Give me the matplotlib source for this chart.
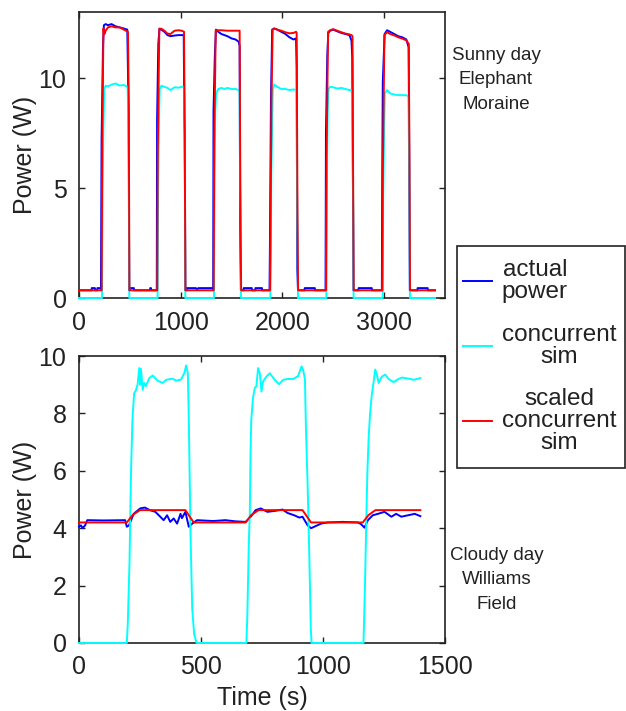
import matplotlib
matplotlib.use("Agg")
import matplotlib.pyplot as plt
from matplotlib.patches import Rectangle

plt.rcParams['font.family'] = ['Liberation Sans', 'DejaVu Sans']

# ---------------- Top panel: Sunny day, Elephant Moraine ----------------
top_red_t = [0, 223, 228, 240, 250, 262, 285, 320, 360, 400, 440, 482, 490, 496,
             770, 775, 790, 810, 840, 870, 900, 940, 980, 1010, 1033, 1040, 1047,
             1325, 1330, 1345, 1400, 1460, 1580, 1588, 1595,
             1879, 1883, 1893, 1905, 1920, 1950, 1990, 2030, 2070, 2110, 2135, 2141, 2149, 2155,
             2430, 2435, 2450, 2470, 2500, 2540, 2580, 2620, 2660, 2680, 2690, 2696, 2702,
             2984, 2989, 3004, 3030, 3060, 3100, 3140, 3180, 3220, 3235, 3244, 3250, 3256,
             3502]
top_red_p = [0.35, 0.35, 6.4, 12.25, 12.0, 12.15, 12.3, 12.35, 12.3, 12.3, 12.2, 12.1, 8.4, 0.35,
             0.35, 6.7, 12.24, 12.24, 12.15, 12.02, 12.0, 12.15, 12.17, 12.15, 12.1, 7.4, 0.35,
             0.35, 7.0, 12.17, 12.17, 12.15, 12.15, 3.85, 0.35,
             0.35, 2.4, 9.0, 12.2, 12.25, 12.2, 12.15, 12.08, 12.03, 12.05, 12.1, 12.05, 3.8, 0.35,
             0.35, 6.4, 12.1, 12.17, 12.22, 12.15, 12.08, 12.02, 11.98, 11.95, 11.9, 5.7, 0.35,
             0.35, 5.8, 11.95, 12.09, 12.0, 11.94, 11.85, 11.79, 11.71, 11.6, 11.55, 6.7, 0.35,
             0.35]

top_blue_t = [0, 125, 125, 157, 157, 180, 180, 213, 216,
              222, 236, 245, 262, 285, 320, 360, 400, 440, 475, 482, 488, 494,
              494, 500, 500, 540, 540, 700, 700, 708, 708, 765,
              768, 780, 792, 810, 840, 870, 900, 940, 980, 1010, 1030, 1036, 1040, 1046,
              1046, 1060, 1060, 1150, 1160, 1175, 1310, 1320,
              1323, 1336, 1347, 1370, 1400, 1430, 1460, 1500, 1540, 1570, 1580, 1585, 1592,
              1592, 1620, 1620, 1700, 1700, 1735, 1735, 1800, 1800, 1874,
              1878, 1888, 1900, 1920, 1950, 1990, 2030, 2070, 2110, 2135, 2141, 2147, 2154,
              2154, 2220, 2220, 2320, 2320, 2425,
              2429, 2442, 2452, 2470, 2500, 2540, 2580, 2620, 2660, 2680, 2688, 2694, 2700,
              2700, 2750, 2750, 2880, 2880, 2979,
              2983, 2988, 2998, 3006, 3030, 3060, 3100, 3140, 3180, 3220, 3235, 3242, 3248, 3254,
              3254, 3330, 3330, 3430, 3430, 3502]
top_blue_p = [0.35, 0.35, 0.45, 0.45, 0.35, 0.35, 0.45, 0.45, 0.4,
              7.2, 11.4, 12.4, 12.45, 12.4, 12.45, 12.35, 12.3, 12.25, 12.2, 10.0, 8.4, 0.4,
              0.35, 0.35, 0.45, 0.45, 0.35, 0.35, 0.45, 0.45, 0.35, 0.35,
              8.1, 11.55, 12.24, 12.2, 12.1, 11.95, 11.9, 11.93, 11.95, 11.95, 11.95, 8.3, 7.4, 0.4,
              0.35, 0.35, 0.45, 0.45, 0.4, 0.45, 0.45, 0.4,
              8.5, 11.0, 12.2, 12.1, 12.0, 11.95, 11.9, 11.8, 11.75, 11.65, 11.45, 3.3, 0.4,
              0.35, 0.35, 0.45, 0.45, 0.35, 0.35, 0.45, 0.45, 0.35, 0.35,
              2.4, 9.0, 12.2, 12.25, 12.2, 12.1, 12.0, 11.85, 11.75, 11.8, 10.5, 1.3, 0.4,
              0.35, 0.35, 0.45, 0.45, 0.35, 0.35,
              7.5, 11.0, 12.05, 12.15, 12.2, 12.12, 12.05, 12.0, 11.95, 11.7, 10.9, 5.7, 0.4,
              0.35, 0.35, 0.45, 0.45, 0.35, 0.35,
              5.8, 9.8, 11.0, 12.0, 12.17, 12.1, 12.0, 11.9, 11.85, 11.75, 11.5, 11.4, 6.7, 0.4,
              0.35, 0.35, 0.45, 0.45, 0.35, 0.35]

top_cyan_t = [0, 226, 232, 240, 248, 262, 285, 320, 360, 400, 440, 478, 485, 490, 495,
              773, 778, 786, 794, 810, 840, 870, 900, 940, 980, 1010, 1033, 1038, 1042, 1046,
              1328, 1333, 1341, 1349, 1370, 1400, 1430, 1460, 1500, 1540, 1570, 1580, 1585, 1590, 1594,
              1882, 1886, 1892, 1898, 1906, 1920, 1950, 1990, 2030, 2070, 2110, 2140, 2146, 2150, 2154,
              2433, 2438, 2446, 2454, 2470, 2500, 2540, 2580, 2620, 2660, 2680, 2688, 2693, 2697, 2701,
              2987, 2992, 3000, 3008, 3030, 3060, 3100, 3140, 3180, 3220, 3240, 3246, 3250, 3255,
              3502]
top_cyan_p = [0, 0, 4.9, 7.7, 9.5, 9.65, 9.62, 9.7, 9.75, 9.66, 9.68, 9.6, 8.4, 6.5, 0,
              0, 5.0, 8.0, 9.5, 9.65, 9.6, 9.55, 9.45, 9.58, 9.56, 9.6, 9.6, 7.4, 5.7, 0,
              0, 5.4, 8.5, 9.3, 9.5, 9.55, 9.5, 9.55, 9.5, 9.5, 9.45, 9.4, 5.1, 3.85, 0,
              0, 1.6, 5.7, 7.3, 9.45, 9.7, 9.6, 9.5, 9.5, 9.45, 9.48, 9.45, 3.8, 2.8, 0,
              0, 4.8, 8.5, 9.5, 9.6, 9.58, 9.52, 9.55, 9.5, 9.45, 9.45, 9.4, 5.7, 4.4, 0,
              0, 4.5, 7.3, 9.3, 9.45, 9.3, 9.25, 9.22, 9.22, 9.22, 9.15, 6.7, 5.1, 0,
              0]

# ---------------- Bottom panel: Cloudy day, Williams Field ----------------
bot_red_t = [0, 196, 220, 250, 436, 470, 683, 706, 736, 916, 951, 1163, 1187, 1215, 1399]
bot_red_p = [4.2, 4.2, 4.46, 4.63, 4.63, 4.2, 4.2, 4.46, 4.63, 4.63, 4.2, 4.2, 4.46, 4.63, 4.63]

bot_blue_t = [0, 8, 15, 25, 34, 100, 189, 196, 205, 224, 251, 270, 290, 313, 333, 347, 361,
              374, 388, 402, 416, 422, 436, 450, 464, 484, 550, 600, 640, 683, 704, 724, 745,
              772, 800, 834, 855, 882, 903, 916, 937, 951, 964, 992, 1019, 1080, 1143, 1156,
              1170, 1184, 1204, 1225, 1252, 1280, 1300, 1321, 1348, 1376, 1399]
bot_blue_p = [4.05, 4.1, 4.0, 4.1, 4.28, 4.27, 4.28, 4.05, 4.1, 4.5, 4.69, 4.72, 4.63, 4.57,
              4.4, 4.28, 4.45, 4.22, 4.34, 4.16, 4.5, 4.35, 4.57, 4.05, 4.16, 4.28, 4.25, 4.28,
              4.24, 4.22, 4.4, 4.63, 4.69, 4.57, 4.6, 4.65, 4.53, 4.45, 4.37, 4.4, 4.1, 4.0,
              4.05, 4.16, 4.2, 4.22, 4.2, 4.14, 4.02, 4.28, 4.45, 4.5, 4.57, 4.4, 4.5, 4.4,
              4.45, 4.5, 4.42]

bot_cyan_t = [0, 196, 200, 207, 213, 219, 226, 233, 240, 247, 251, 254, 261, 267, 274, 288,
              302, 322, 343, 357, 384, 398, 418, 432, 439, 446, 450, 457, 464, 472, 482,
              686, 690, 696, 700, 703, 706, 713, 720, 727, 734, 741, 748, 754, 768, 782, 802,
              820, 837, 857, 878, 898, 912, 919, 926, 930, 937, 944, 950, 953,
              1166, 1172, 1178, 1182, 1187, 1193, 1200, 1207, 1214, 1221, 1228, 1241, 1255,
              1269, 1289, 1310, 1324, 1358, 1372, 1399]
bot_cyan_p = [0, 0, 0.7, 2.8, 5.9, 7.8, 8.7, 8.8, 9.0, 9.58, 9.0, 9.55, 8.82, 9.06, 8.95, 9.23,
              9.32, 9.14, 9.06, 9.17, 9.21, 9.14, 9.18, 9.41, 9.67, 9.4, 7.8, 3.8, 1.2, 0.3, 0,
              0, 1.0, 3.5, 4.5, 6.6, 7.78, 8.53, 8.88, 8.95, 9.58, 9.4, 8.76, 9.11, 9.28, 9.4,
              9.17, 9.02, 9.17, 9.2, 9.2, 9.3, 9.64, 9.5, 9.2, 7.5, 5.5, 3.0, 0.5, 0,
              0, 2.0, 4.5, 6.0, 7.13, 8.0, 8.65, 9.06, 9.53, 9.35, 9.06, 9.28, 9.35, 9.2,
              9.09, 9.2, 9.25, 9.2, 9.17, 9.23]

top_xticks = [0, 1000, 2000, 3000]
top_yticks = [0, 5, 10]
bot_xticks = [0, 500, 1000, 1500]
bot_yticks = [0, 2, 4, 6, 8, 10]
labels = ["actual\npower", "concurrent\nsim", "scaled\nconcurrent\nsim"]

BLUE, CYAN, RED = '#0000ff', '#00ffff', '#ff0000'
INK = '#222222'
FS = 18
LFS = 17.5
W, H = 626, 711

fig = plt.figure(figsize=(W / 100, H / 100), dpi=100)
ax1 = fig.add_axes([79 / W, 1 - 298 / H, 366 / W, 286 / H])
ax2 = fig.add_axes([79 / W, 1 - 643 / H, 366 / W, 287 / H])

lw = 1.4
l1, = ax1.plot(top_blue_t, top_blue_p, color=BLUE, lw=lw, zorder=3, clip_on=False)
l2, = ax1.plot(top_cyan_t, top_cyan_p, color=CYAN, lw=lw, zorder=4, clip_on=False)
l3, = ax1.plot(top_red_t, top_red_p, color=RED, lw=lw, zorder=5, clip_on=False)
ax2.plot(bot_blue_t, bot_blue_p, color=BLUE, lw=lw, zorder=3, clip_on=False)
ax2.plot(bot_cyan_t, bot_cyan_p, color=CYAN, lw=lw, zorder=4, clip_on=False)
ax2.plot(bot_red_t, bot_red_p, color=RED, lw=lw, zorder=5, clip_on=False)

ax1.set_xlim(0, 3600)
ax1.set_ylim(0, 13)
ax1.set_xticks(top_xticks)
ax1.set_yticks(top_yticks)
ax2.set_xlim(0, 1500)
ax2.set_ylim(0, 10)
ax2.set_xticks(bot_xticks)
ax2.set_yticks(bot_yticks)

for ax in (ax1, ax2):
    ax.tick_params(direction='in', top=True, right=True, length=4, width=1.0,
                   labelsize=FS, color=INK, labelcolor=INK)
    ax.tick_params(axis='x', pad=9)
    ax.tick_params(axis='y', pad=9)
    for s in ax.spines.values():
        s.set_linewidth(1.2)
        s.set_color(INK)
    ax.set_ylabel("Power (W)", fontsize=FS, color=INK, labelpad=1)
ax2.set_xlabel("Time (s)", fontsize=FS, color=INK, labelpad=5)

# legend box frame (drawn separately so its padding can match the reference)
fig.patches.append(Rectangle((457 / W, 1 - 468 / H), 168 / W, 222 / H,
                             transform=fig.transFigure, facecolor='white',
                             edgecolor=INK, linewidth=1.2, zorder=1))
leg = fig.legend([l1, l2, l3], labels, loc='upper left',
                 bbox_to_anchor=(463 / W, 1 - 259 / H), bbox_transform=fig.transFigure,
                 fontsize=LFS, frameon=False, borderaxespad=0,
                 handlelength=1.2, handletextpad=0.4, labelspacing=0.85, borderpad=0.0)
for t in leg.get_texts():
    t.set_multialignment('center')
    t.set_linespacing(1.0)
    t.set_color(INK)

fig.text(496 / W, 1 - 80 / H, "Sunny day\nElephant\nMoraine", ha='center', va='center',
         fontsize=13.5, color=INK, linespacing=1.6)
fig.text(497 / W, 1 - 580 / H, "Cloudy day\nWilliams\nField", ha='center', va='center',
         fontsize=13.5, color=INK, linespacing=1.6)

fig.savefig("out.png", dpi=100)
